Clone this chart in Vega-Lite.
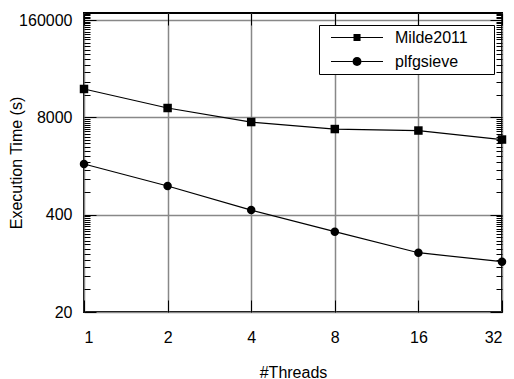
{
  "$schema": "https://vega.github.io/schema/vega-lite/v6.json",
  "width": 418,
  "height": 299,
  "autosize": {"type": "none"},
  "padding": {"left": 84, "top": 13, "right": 12, "bottom": 67},
  "config": {
    "font": "Liberation Sans",
    "view": {"stroke": "black", "strokeWidth": 2},
    "axis": {
      "labelFont": "Liberation Sans",
      "titleFont": "Liberation Sans",
      "labelFontSize": 16,
      "titleFontSize": 16,
      "titleFontWeight": "normal",
      "labelColor": "black",
      "titleColor": "black",
      "tickColor": "black",
      "tickWidth": 1,
      "domain": false,
      "gridColor": "#888888",
      "gridWidth": 1.5,
      "gridOpacity": 1
    }
  },
  "data": {
    "values": [
      {"threads": 1, "time": 19150, "series": "Milde2011"},
      {"threads": 2, "time": 10660, "series": "Milde2011"},
      {"threads": 4, "time": 6920, "series": "Milde2011"},
      {"threads": 8, "time": 5580, "series": "Milde2011"},
      {"threads": 16, "time": 5330, "series": "Milde2011"},
      {"threads": 32, "time": 4040, "series": "Milde2011"},
      {"threads": 1, "time": 1900, "series": "plfgsieve"},
      {"threads": 2, "time": 966, "series": "plfgsieve"},
      {"threads": 4, "time": 461, "series": "plfgsieve"},
      {"threads": 8, "time": 237, "series": "plfgsieve"},
      {"threads": 16, "time": 124, "series": "plfgsieve"},
      {"threads": 32, "time": 94, "series": "plfgsieve"}
    ]
  },
  "resolve": {"axis": {"x": "independent", "y": "independent"}, "scale": {"shape": "independent"}},
  "layer": [
    {
      "mark": {"type": "line", "color": "black", "strokeWidth": 1.2},
      "encoding": {
        "x": {
          "field": "threads", "type": "quantitative",
          "scale": {"type": "log", "base": 2, "domain": [1, 32], "nice": false},
          "axis": {
            "orient": "bottom",
            "title": "#Threads",
            "values": [1, 2, 4, 8, 16, 32],
            "format": "d",
            "tickSize": -12,
            "labelPadding": 29,
            "titlePadding": 19,
            "grid": true
          }
        },
        "y": {
          "field": "time", "type": "quantitative",
          "scale": {"type": "log", "domain": [20, 198500], "nice": false},
          "axis": {
            "orient": "left",
            "title": "Execution Time (s)",
            "values": [20,40,60,80,100,120,140,160,180,200,220,240,260,280,300,320,340,360,380,400,800,1200,1600,2000,2400,2800,3200,3600,4000,4400,4800,5200,5600,6000,6400,6800,7200,7600,8000,16000,24000,32000,40000,48000,56000,64000,72000,80000,88000,96000,104000,112000,120000,128000,136000,144000,152000,160000,168000,176000,184000,192000],
            "labelExpr": "indexof([20,400,8000,160000], datum.value) >= 0 ? format(datum.value, 'd') : ''",
            "tickSize": {"condition": {"test": "indexof([20,400,8000,160000], datum.value) >= 0", "value": -12}, "value": -6},
            "gridOpacity": {"condition": {"test": "indexof([20,400,8000,160000], datum.value) >= 0", "value": 1}, "value": 0},
            "labelPadding": 24,
            "titlePadding": -6,
            "grid": true
          }
        },
        "detail": {"field": "series"}
      }
    },
    {
      "mark": {"type": "point", "filled": true, "color": "black", "opacity": 1, "size": 72},
      "encoding": {
        "x": {
          "field": "threads", "type": "quantitative",
          "axis": {
            "orient": "top",
            "title": null,
            "values": [1, 2, 4, 8, 16, 32],
            "labels": false,
            "tickSize": -12,
            "grid": false
          }
        },
        "y": {
          "field": "time", "type": "quantitative",
          "axis": {
            "orient": "right",
            "title": null,
            "values": [20,40,60,80,100,120,140,160,180,200,220,240,260,280,300,320,340,360,380,400,800,1200,1600,2000,2400,2800,3200,3600,4000,4400,4800,5200,5600,6000,6400,6800,7200,7600,8000,16000,24000,32000,40000,48000,56000,64000,72000,80000,88000,96000,104000,112000,120000,128000,136000,144000,152000,160000,168000,176000,184000,192000],
            "labels": false,
            "tickSize": {"condition": {"test": "indexof([20,400,8000,160000], datum.value) >= 0", "value": -12}, "value": -6},
            "grid": false
          }
        },
        "shape": {
          "field": "series", "type": "nominal",
          "scale": {"domain": ["Milde2011", "plfgsieve"], "range": ["square", "circle"]},
          "legend": null
        }
      }
    },
    {
      "mark": {"type": "point", "filled": true, "color": "black", "opacity": 0, "size": 256},
      "encoding": {
        "x": {"field": "threads", "type": "quantitative", "axis": null},
        "y": {"field": "time", "type": "quantitative", "axis": null},
        "shape": {
          "field": "series", "type": "nominal",
          "scale": {"domain": ["Milde2011", "plfgsieve"], "range": ["M-0.06,-0.075H2.75V0.075H-0.06ZM3.63,-0.075H6.44V0.075H3.63ZM2.75,-0.44H3.63V0.44H2.75ZM19.56,0Z", "M-0.06,-0.075H2.63V0.075H-0.06ZM3.75,-0.075H6.44V0.075H3.75ZM2.63,0A0.56,0.56 0 1,0 3.75,0A0.56,0.56 0 1,0 2.63,0ZM19.56,0Z"]},
          "legend": {
            "orient": "none",
            "legendX": 235,
            "legendY": 12,
            "title": null,
            "strokeColor": "black",
            "fillColor": "white",
            "padding": 4,
            "labelFont": "Liberation Sans",
            "labelFontSize": 16,
            "labelColor": "black",
            "labelOffset": 55,
            "rowPadding": 7,
            "symbolSize": 256,
            "symbolStrokeWidth": 1,
            "symbolFillColor": "black",
            "symbolOpacity": 1
          }
        }
      }
    }
  ]
}
